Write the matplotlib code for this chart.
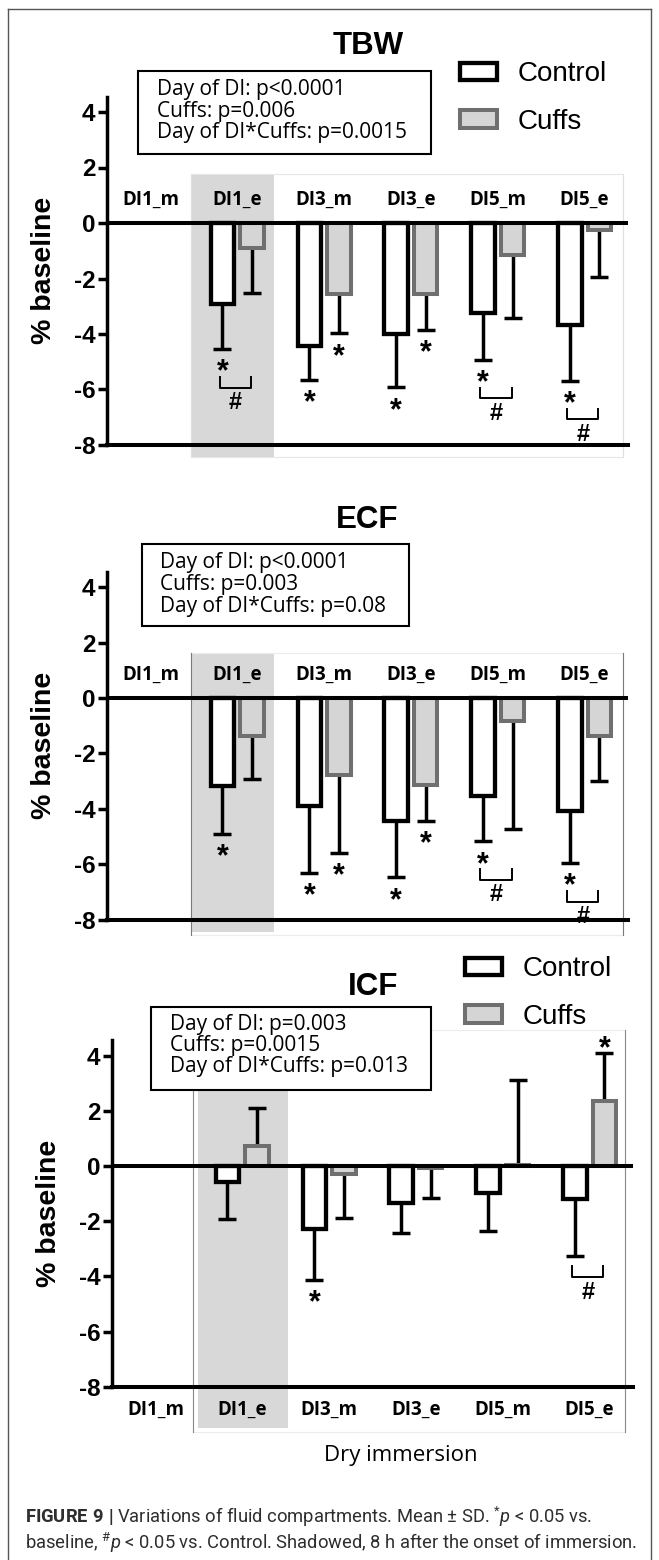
import numpy as np
import matplotlib.pyplot as plt
from matplotlib.lines import Line2D
from matplotlib.patches import Rectangle

plt.rcParams['font.family'] = ['Liberation Sans', 'DejaVu Sans']
plt.rcParams['axes.unicode_minus'] = False
plt.rcParams['mathtext.fontset'] = 'custom'
plt.rcParams['mathtext.rm'] = 'Roboto'
plt.rcParams['mathtext.it'] = 'Roboto:italic'
plt.rcParams['mathtext.bf'] = 'Roboto:bold'

# ---- data: % of baseline, mean and SD (DI1_m is the reference, no bar) ----
categories = ['DI1_m', 'DI1_e', 'DI3_m', 'DI3_e', 'DI5_m', 'DI5_e']
series_names = ['Control', 'Cuffs']

tbw_control = [np.nan, -2.91, -4.45, -4.00, -3.24, -3.69]
tbw_control_sd = [np.nan, 1.63, 1.19, 1.92, 1.69, 1.99]
tbw_cuffs = [np.nan, -0.90, -2.55, -2.55, -1.15, -0.24]
tbw_cuffs_sd = [np.nan, 1.64, 1.42, 1.29, 2.27, 1.69]

ecf_control = [np.nan, -3.19, -3.89, -4.45, -3.55, -4.09]
ecf_control_sd = [np.nan, 1.72, 2.43, 2.02, 1.62, 1.87]
ecf_cuffs = [np.nan, -1.36, -2.77, -3.13, -0.84, -1.36]
ecf_cuffs_sd = [np.nan, 1.56, 2.83, 1.30, 3.89, 1.65]

icf_control = [np.nan, -0.58, -2.29, -1.35, -0.99, -1.20]
icf_control_sd = [np.nan, 1.34, 1.84, 1.07, 1.36, 2.06]
icf_cuffs = [np.nan, 0.72, -0.29, -0.07, 0.03, 2.36]
icf_cuffs_sd = [np.nan, 1.37, 1.61, 1.10, 3.08, 1.72]

# * p<0.05 vs baseline, # p<0.05 vs Control
tbw_star_control = [0, 1, 1, 1, 1, 1]
tbw_star_cuffs = [0, 0, 1, 1, 0, 0]
tbw_hash = [0, 1, 0, 0, 1, 1]
ecf_star_control = [0, 1, 1, 1, 1, 1]
ecf_star_cuffs = [0, 0, 1, 1, 0, 0]
ecf_hash = [0, 0, 0, 0, 1, 1]
icf_star_control = [0, 0, 1, 0, 0, 0]
icf_star_cuffs = [0, 0, 0, 0, 0, 1]
icf_hash = [0, 0, 0, 0, 0, 1]

tbw_stats = ['Day of DI: p<0.0001', 'Cuffs: p=0.006', 'Day of DI*Cuffs: p=0.0015']
ecf_stats = ['Day of DI: p<0.0001', 'Cuffs: p=0.003', 'Day of DI*Cuffs: p=0.08']
icf_stats = ['Day of DI: p=0.003', 'Cuffs: p=0.0015', 'Day of DI*Cuffs: p=0.013']

caption = [
    r'$\mathbf{FIGURE\ 9\ |}$ Variations of fluid compartments. Mean ± SD. $^{*}\mathit{p}$ < 0.05 vs.',
    r'baseline, $^{\#}\mathit{p}$ < 0.05 vs. Control. Shadowed, 8 h after the onset of immersion.',
]

# ---- look ----
W, H = 659, 1560
SANS = 'Open Sans'   # the labels and the stats boxes use a humanist face
SHADE = '#d8d8d8'
CUFF_FACE = '#d5d5d5'
CUFF_EDGE = '#6f6f6f'
BW, OFF = 0.27, 0.17
STAR_PT = 22

fig = plt.figure(figsize=(W / 100, H / 100), dpi=100)


def fx(px):
    return px / W


def fy(py):
    return 1 - py / H


def panel_axes(left, right, zero, unit):
    top = zero - 4.55 * unit
    bottom = zero + 8 * unit
    return fig.add_axes([fx(left), fy(bottom), (right - left) / W, (bottom - top) / H])


def draw_panel(ax, unit, ctrl, ctrl_sd, cuffs, cuffs_sd, star_c, star_f, hashes,
               shade, frame, frame_color, side_color, labels_y):
    x = np.arange(len(categories))
    ctrl, ctrl_sd = np.array(ctrl), np.array(ctrl_sd)
    cuffs, cuffs_sd = np.array(cuffs), np.array(cuffs_sd)
    ok = ~np.isnan(ctrl)

    ax.set_xlim(-0.5, len(categories) - 0.5)
    ax.set_ylim(-8, 4.55)
    ax.patch.set_visible(False)

    # grey column = 8 h after onset, thin frame = the immersion period
    ax.add_patch(Rectangle((shade[0], shade[2]), shade[1] - shade[0], shade[3] - shade[2],
                           fc=SHADE, ec='none', zorder=0.5, clip_on=False))
    ax.add_patch(Rectangle((frame[0], frame[2]), frame[1] - frame[0], frame[3] - frame[2],
                           fill=False, ec=frame_color, lw=0.8, zorder=0.6, clip_on=False))
    for xb in frame[:2]:
        ax.plot([xb, xb], [frame[2], frame[3]], color=side_color, lw=0.8, zorder=0.7, clip_on=False)

    bc = ax.bar(x[ok] - OFF, ctrl[ok], BW, color='white', edgecolor='black', linewidth=3.1, zorder=2)
    bf = ax.bar(x[ok] + OFF, cuffs[ok], BW, color=CUFF_FACE, edgecolor=CUFF_EDGE, linewidth=2.9, zorder=2)
    ax.axhline(0, color='black', lw=2.9, zorder=3)

    star_lift = 0.30 * STAR_PT * 100 / 72 / unit
    tips = []
    for xs, m, sd, star in [(x - OFF, ctrl, ctrl_sd, star_c), (x + OFF, cuffs, cuffs_sd, star_f)]:
        up = m >= 0
        tip = np.where(up, m + sd, m - sd)
        tips.append(tip)
        ax.errorbar(xs[ok], m[ok], yerr=[np.where(up, 0, sd)[ok], np.where(up, sd, 0)[ok]],
                    fmt='none', ecolor='black', elinewidth=2.5, capsize=0, zorder=1.8)
        ax.plot(xs[ok], tip[ok], ls='none', marker='_', ms=13, mew=2.5, color='black', zorder=1.8)
        for xi, ti, ui, s in zip(xs, tip, up, star):
            if s:
                yc = ti + 0.5 if ui else ti - 0.52
                ax.text(xi, yc - star_lift, '*', ha='center', va='center', fontsize=STAR_PT,
                        fontweight='bold', zorder=4, clip_on=False)

    for xi, ct, sc, h in zip(x, tips[0], star_c, hashes):
        if h:
            yb = ct - (1.39 if sc else 0.76)
            ax.plot([xi - 0.2, xi - 0.2, xi + 0.16, xi + 0.16], [yb + 0.38, yb, yb, yb + 0.38],
                    color='black', lw=1.4, zorder=4, clip_on=False)
            ax.text(xi - 0.02, yb - 0.55, '#', ha='center', va='center', fontsize=17,
                    fontweight='bold', zorder=4, clip_on=False)

    for xi, c in zip(x, categories):
        ax.text(xi, labels_y, c, ha='center', va='center', fontsize=13.5, fontweight='bold',
                family=SANS, zorder=4, clip_on=False)

    ticks = [-8, -6, -4, -2, 0, 2, 4]
    ax.set_yticks(ticks, labels=[str(t) for t in ticks], fontweight='bold', fontsize=17.5)
    ax.set_xticks([])
    ax.tick_params(axis='y', length=6.5, width=2.5, pad=2)
    for s in ['top', 'right']:
        ax.spines[s].set_visible(False)
    ax.spines['left'].set_linewidth(2.5)
    ax.spines['bottom'].set_linewidth(2.9)
    width_px = ax.get_position().width * W
    ax.text(-63 / width_px, 0.5, '% baseline', transform=ax.transAxes, rotation=90,
            ha='center', va='center', fontsize=20.5, fontweight='bold')
    return bc, bf


def stats_box(left, top, right, bottom, text_x, baselines, lines):
    fig.add_artist(Rectangle((fx(left), fy(bottom)), (right - left) / W, (bottom - top) / H,
                             transform=fig.transFigure, fc='white', ec='black', lw=1.5, zorder=5))
    for yb, s in zip(baselines, lines):
        fig.text(fx(text_x), fy(yb), s, ha='left', va='baseline', fontsize=15,
                 family=SANS, zorder=6)


def legend(ax, handles, left, ymid):
    ax.legend(handles, series_names, loc='center left', bbox_to_anchor=(fx(left), fy(ymid)),
              bbox_transform=fig.transFigure, frameon=False, fontsize=20, borderpad=0,
              borderaxespad=0, handlelength=1.33, handleheight=0.58, handletextpad=0.75,
              labelspacing=0.77)


# ---- TBW ----
ax1 = panel_axes(107, 628, 223, 27.75)
h1 = draw_panel(ax1, 27.75, tbw_control, tbw_control_sd, tbw_cuffs, tbw_cuffs_sd,
                tbw_star_control, tbw_star_cuffs, tbw_hash,
                shade=(0.47, 1.42, -8.43, 1.77), frame=(0.47, 5.44, -8.43, 1.77),
                frame_color='#e6e6e6', side_color='#e0e0e0', labels_y=0.83)
fig.text(fx(368), fy(53.5), 'TBW', ha='center', va='baseline', fontsize=22.5, fontweight='bold')
stats_box(138, 71, 431, 154, 157, [95, 117, 138], tbw_stats)
legend(ax1, h1, 460, 98)

# ---- ECF ----
ax2 = panel_axes(107, 628, 698, 27.7)
draw_panel(ax2, 27.7, ecf_control, ecf_control_sd, ecf_cuffs, ecf_cuffs_sd,
           ecf_star_control, ecf_star_cuffs, ecf_hash,
           shade=(0.47, 1.42, -8.45, 1.62), frame=(0.47, 5.44, -8.55, 1.62),
           frame_color='#ececec', side_color='#7a7a7a', labels_y=0.83)
fig.text(fx(367.5), fy(528), 'ECF', ha='center', va='baseline', fontsize=22.5, fontweight='bold')
stats_box(142, 544, 409, 626, 160, [568, 590, 612], ecf_stats)

# ---- ICF ----
ax3 = panel_axes(112, 633, 1166, 27.6)
h3 = draw_panel(ax3, 27.6, icf_control, icf_control_sd, icf_cuffs, icf_cuffs_sd,
                icf_star_control, icf_star_cuffs, icf_hash,
                shade=(0.49, 1.53, -9.49, 4.93), frame=(0.43, 5.41, -9.64, 4.93),
                frame_color='#ececec', side_color='#8a8a8a', labels_y=-8.83)
fig.text(fx(373), fy(995), 'ICF', ha='center', va='baseline', fontsize=22.5, fontweight='bold')
stats_box(151, 1007, 431, 1090, 170, [1030, 1051, 1072], icf_stats)
legend(ax3, h3, 465, 993)
fig.text(fx(401), fy(1461), 'Dry immersion', ha='center', va='baseline', fontsize=16, family=SANS)

# ---- caption and outer frame ----
for yb, s in zip([1523, 1549], caption):
    fig.text(fx(25), fy(yb), s, ha='left', va='baseline', fontsize=13.2, family='Roboto',
             color='#2e2e2e')

frame_col = '#555555'
fig.add_artist(Line2D([fx(8), fx(8)], [fy(9), fy(1560)], transform=fig.transFigure, color=frame_col, lw=1))
fig.add_artist(Line2D([fx(8), fx(651)], [fy(9), fy(9)], transform=fig.transFigure, color=frame_col, lw=1))
fig.add_artist(Line2D([fx(651), fx(651)], [fy(9), fy(1560)], transform=fig.transFigure, color=frame_col, lw=1))

fig.savefig('out.png', dpi=100)
